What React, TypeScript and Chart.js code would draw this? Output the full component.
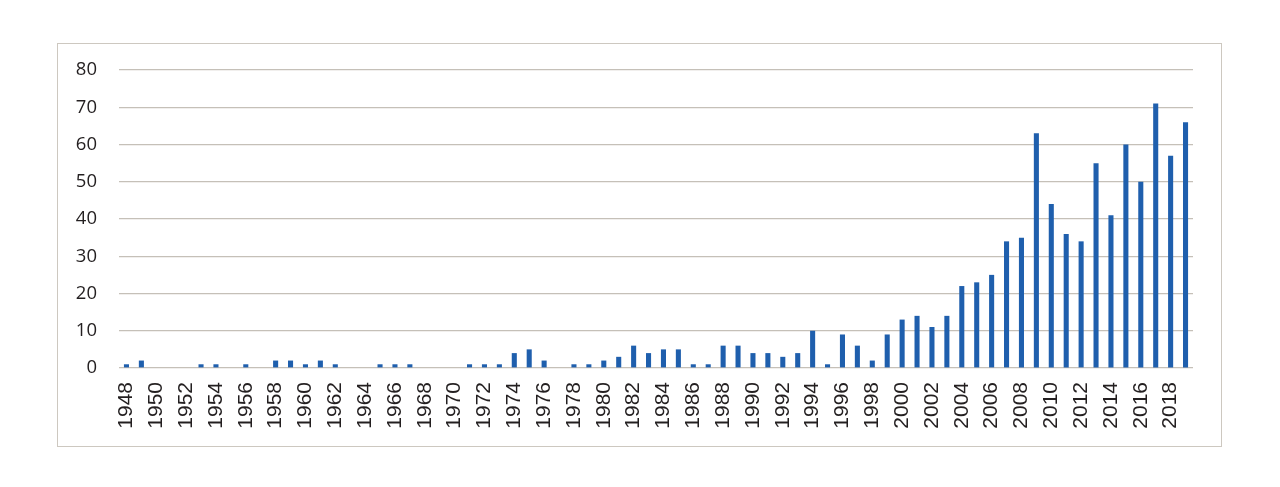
import React, { useEffect, useRef } from "react";
import { Chart, registerables } from "chart.js";

Chart.register(...registerables);

const years: string[] = [];
for (let y = 1948; y <= 2019; y++) years.push(String(y));

const counts = [
  1, 2, 0, 0, 0, 1, 1, 0, 1, 0, // 1948-1957
  2, 2, 1, 2, 1, 0, 0, 1, 1, 1, // 1958-1967
  0, 0, 0, 1, 1, 1, 4, 5, 2, 0, // 1968-1977
  1, 1, 2, 3, 6, 4, 5, 5, 1, 1, // 1978-1987
  6, 6, 4, 4, 3, 4, 10, 1, 9, 6, // 1988-1997
  2, 9, 13, 14, 11, 14, 22, 23, 25, 34, // 1998-2007
  35, 63, 44, 36, 34, 55, 41, 60, 50, 71, // 2008-2017
  57, 66, // 2018-2019
];

const yMax = 80;
const yStep = 10;

export default function App() {
  const ref = useRef<HTMLCanvasElement | null>(null);

  useEffect(() => {
    if (!ref.current) return;
    const chart = new Chart(ref.current, {
      type: "bar",
      data: {
        labels: years,
        datasets: [
          {
            data: counts,
            backgroundColor: "#1f5fad",
            barPercentage: 0.34,
            categoryPercentage: 1,
          },
        ],
      },
      options: {
        animation: false,
        responsive: false,
        devicePixelRatio: 1,
        layout: { padding: { left: 0, right: 87, top: 70, bottom: 0 } },
        plugins: { legend: { display: false }, tooltip: { enabled: false } },
        scales: {
          x: {
            offset: true,
            grid: { display: false, drawTicks: false },
            border: { display: false },
            afterFit: (s: any) => {
              s.height = 119;
            },
            ticks: {
              autoSkip: false,
              minRotation: 90,
              maxRotation: 90,
              padding: 14,
              color: "#231f20",
              font: { family: "'Liberation Sans', Arial, sans-serif", size: 21 },
              callback: function (this: any, _v: any, i: number) {
                return i % 2 === 0 ? years[i] : "";
              },
            },
          },
          y: {
            min: 0,
            max: yMax,
            grid: { color: "#c5c0b8", lineWidth: 1.2, drawTicks: false },
            border: { display: false },
            afterFit: (s: any) => {
              s.width = 119;
            },
            ticks: {
              stepSize: yStep,
              padding: 22,
              color: "#231f20",
              font: { family: "'Open Sans', sans-serif", size: 18.5 },
            },
          },
        },
      },
    });
    return () => chart.destroy();
  }, []);

  return (
    <div style={{ position: "absolute", left: 0, top: 0, width: 1280, height: 487, background: "#fff" }}>
      <div
        style={{
          position: "absolute",
          left: 57,
          top: 43,
          width: 1163,
          height: 402,
          border: "1.5px solid #cdc8c0",
        }}
      />
      <canvas
        ref={ref}
        width={1280}
        height={487}
        style={{ position: "absolute", left: 0, top: 0, width: 1280, height: 487 }}
      />
    </div>
  );
}
